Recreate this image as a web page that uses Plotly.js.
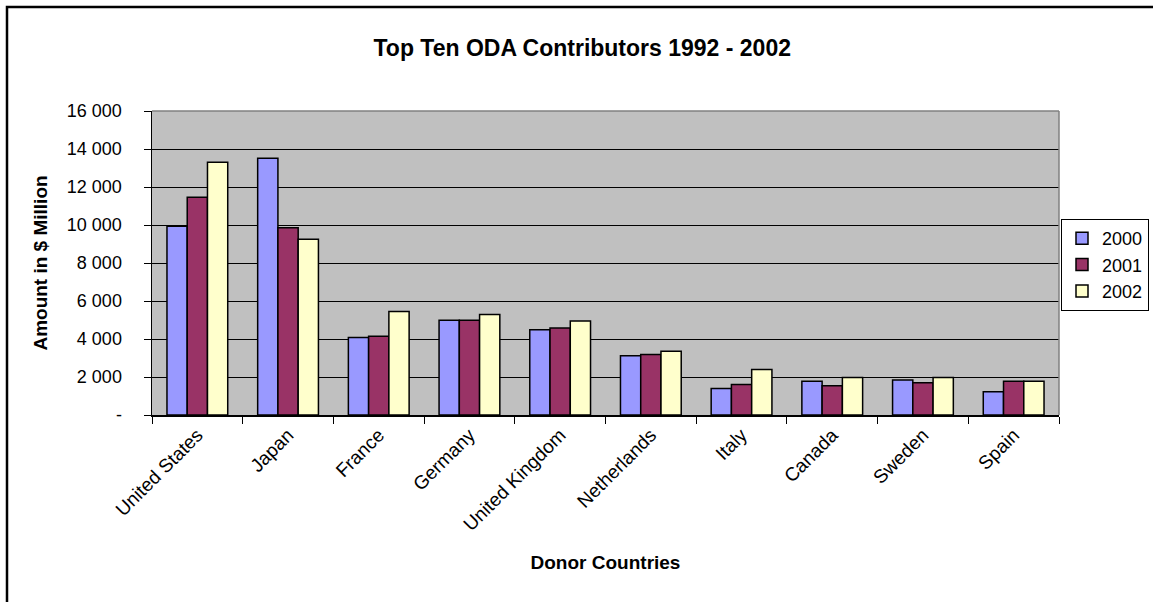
<!DOCTYPE html>
<html>
<head>
<meta charset="utf-8">
<script src="https://cdn.plot.ly/plotly-3.0.1.min.js"></script>
<style>
html,body{margin:0;padding:0;background:#fff;}
#chart{width:1153px;height:602px;}
</style>
</head>
<body>
<div id="chart"></div>
<script>
var countries = ['United States','Japan','France','Germany','United Kingdom','Netherlands','Italy','Canada','Sweden','Spain'];
var years = ['2000','2001','2002'];
var v2000 = [9930, 13510, 4080, 4990, 4490, 3120, 1390, 1770, 1840, 1230];
var v2001 = [11460, 9860, 4150, 4990, 4580, 3190, 1600, 1540, 1700, 1770];
var v2002 = [13300, 9250, 5450, 5290, 4950, 3350, 2390, 1980, 1980, 1770];
var seriesColors = ['#9999FF','#993366','#FFFFCC'];
var yTickVals = [0,2000,4000,6000,8000,10000,12000,14000,16000];
var yTickText = ['-','2 000','4 000','6 000','8 000','10 000','12 000','14 000','16 000'];

var values = [v2000, v2001, v2002];
var traces = years.map(function(yr, i){
  return {
    type:'bar', name: yr, x: countries, y: values[i],
    marker:{color: seriesColors[i], line:{color:'#000', width:1.5}}
  };
});

var L = 152, T = 111, W = 907, H = 304;
function px(x){ return (x - L)/W; }
function py(y){ return (T + H - y)/H; }

var layout = {
  width:1153, height:602,
  margin:{l:152, r:94, t:111, b:187, autoexpand:false},
  paper_bgcolor:'#fff', plot_bgcolor:'#C0C0C0',
  font:{family:'"Liberation Sans", Arial, sans-serif', color:'#000', size:17},
  barmode:'group', bargap:0.33, bargroupgap:0,
  title:{text:'<b>Top Ten ODA Contributors 1992 - 2002</b>', font:{size:23, color:'#000'}, x:0.505, xanchor:'center', y:1-48/602, yanchor:'middle'},
  xaxis:{
    type:'category', tickangle:-45, tickson:'boundaries', ticks:'outside', ticklen:7, tickcolor:'#000', tickwidth:1,
    showline:true, linecolor:'#000', linewidth:1.5, showgrid:false,
    tickfont:{size:19}, ticklabelstandoff:0,
    title:{text:'<b>Donor Countries</b>', font:{size:19}, standoff:22}
  },
  yaxis:{
    range:[0,16000], tickvals:yTickVals, ticktext:yTickText, ticks:'outside', ticklen:7, tickcolor:'#000', tickwidth:1,
    showline:true, linecolor:'#000', linewidth:1.5, showgrid:true, gridcolor:'#000', gridwidth:1, zeroline:false,
    tickfont:{size:18}, ticklabelstandoff:18,
    title:{text:'<b>Amount in $ Million</b>', font:{size:19}, standoff:14}
  },
  showlegend:true,
  legend:{x:px(1149), xanchor:'right', y:py(219), yanchor:'top', bgcolor:'#fff', bordercolor:'#000', borderwidth:1, font:{size:18}, tracegroupgap:0},
  shapes:[
    {type:'line', xref:'paper', yref:'paper', x0:0, x1:1, y0:1, y1:1, line:{color:'#808080', width:1.5}},
    {type:'line', xref:'paper', yref:'paper', x0:1, x1:1, y0:0, y1:1, line:{color:'#808080', width:1.5}},
    {type:'rect', xref:'paper', yref:'paper', x0:px(7), x1:px(1165), y0:py(7), y1:py(615), line:{color:'#000', width:2.5}, fillcolor:'rgba(0,0,0,0)'}
  ]
};

Plotly.newPlot('chart', traces, layout, {displayModeBar:false, staticPlot:true});
</script>
</body>
</html>
